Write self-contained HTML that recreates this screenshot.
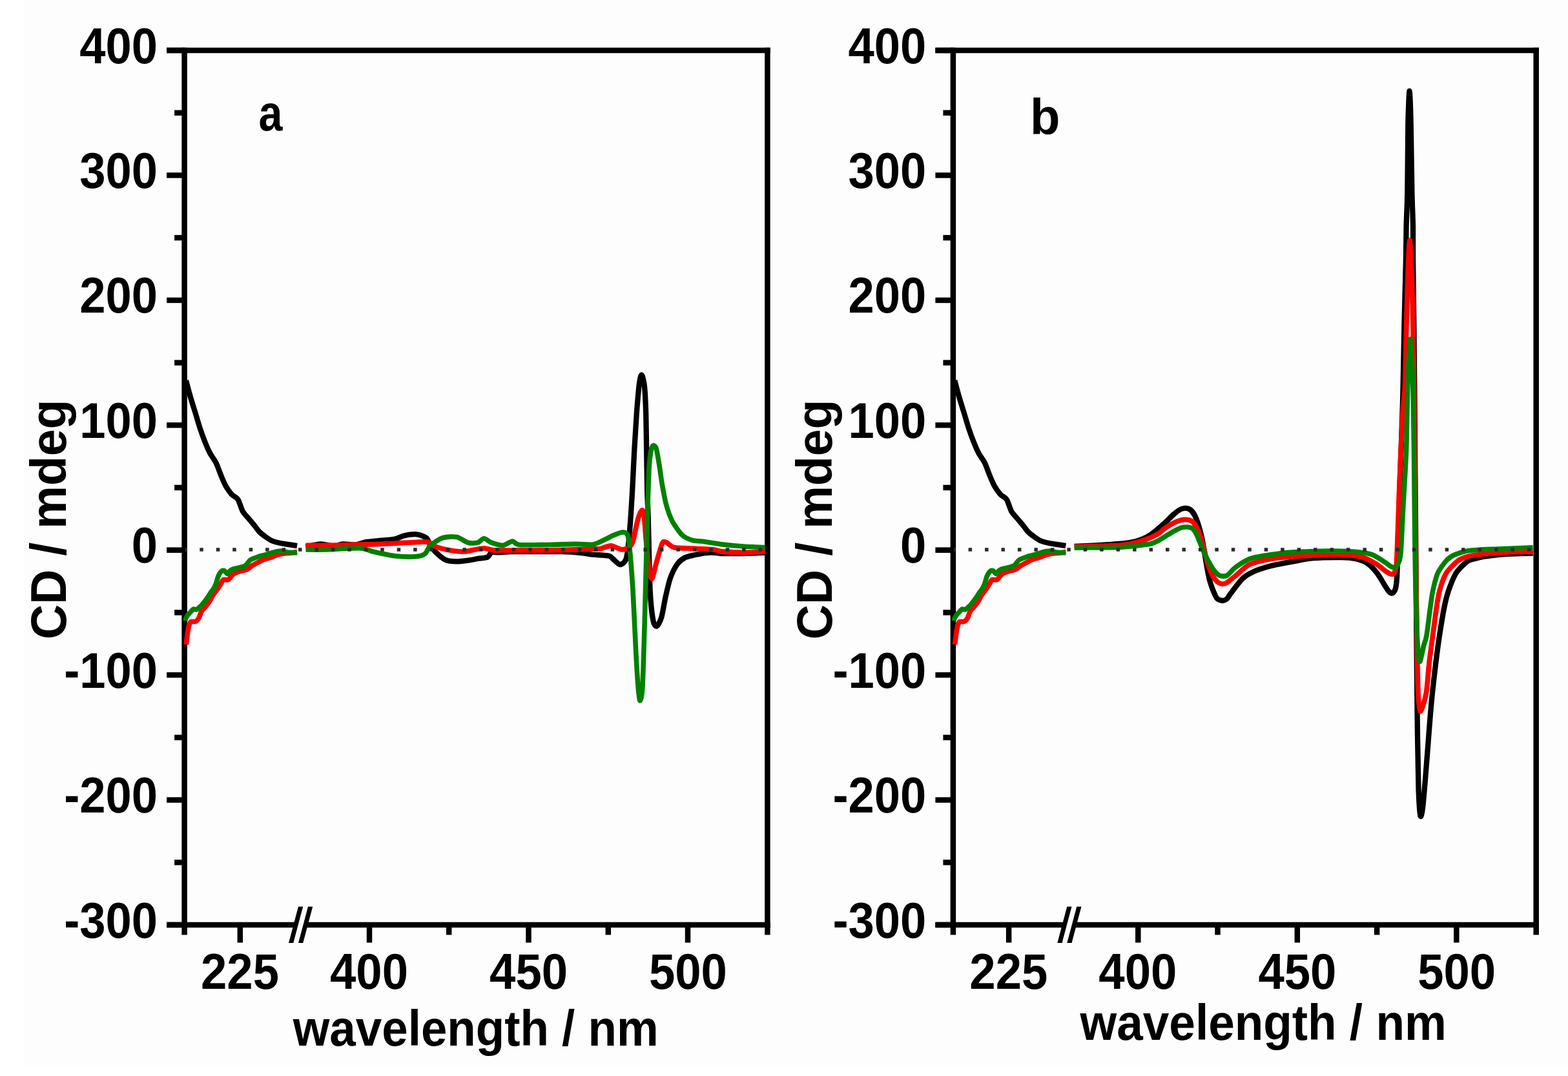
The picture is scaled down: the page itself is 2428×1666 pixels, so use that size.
<!DOCTYPE html>
<html><head><meta charset="utf-8"><title>CD spectra</title>
<style>
html,body{margin:0;padding:0;background:#fff;}
body{width:2428px;height:1666px;overflow:hidden;position:relative;}
svg{position:absolute;left:0;top:0;display:block;}
text{font-family:"Liberation Sans",Arial,sans-serif;font-weight:bold;font-size:78px;fill:#000;}
.ax{stroke:#000;stroke-width:8.5;fill:none;}
</style></head>
<body>
<svg width="2428" height="1666" viewBox="0 0 2428 1666">
<rect x="0" y="0" width="2428" height="1666" fill="#fff"/>
<rect x="38" y="0" width="2390" height="1650" fill="#fdfdfd"/>
<line x1="258.1" y1="78" x2="285.6" y2="78" class="ax"/>
<line x1="270.1" y1="174.7" x2="285.6" y2="174.7" class="ax"/>
<line x1="258.1" y1="271.4" x2="285.6" y2="271.4" class="ax"/>
<line x1="270.1" y1="368.1" x2="285.6" y2="368.1" class="ax"/>
<line x1="258.1" y1="464.9" x2="285.6" y2="464.9" class="ax"/>
<line x1="270.1" y1="561.6" x2="285.6" y2="561.6" class="ax"/>
<line x1="258.1" y1="658.3" x2="285.6" y2="658.3" class="ax"/>
<line x1="270.1" y1="755" x2="285.6" y2="755" class="ax"/>
<line x1="258.1" y1="851.7" x2="285.6" y2="851.7" class="ax"/>
<line x1="270.1" y1="948.4" x2="285.6" y2="948.4" class="ax"/>
<line x1="258.1" y1="1045.1" x2="285.6" y2="1045.1" class="ax"/>
<line x1="270.1" y1="1141.9" x2="285.6" y2="1141.9" class="ax"/>
<line x1="258.1" y1="1238.6" x2="285.6" y2="1238.6" class="ax"/>
<line x1="270.1" y1="1335.3" x2="285.6" y2="1335.3" class="ax"/>
<line x1="258.1" y1="1432" x2="285.6" y2="1432" class="ax"/>
<line x1="371.8" y1="1432" x2="371.8" y2="1459.5" class="ax"/>
<line x1="572" y1="1432" x2="572" y2="1459.5" class="ax"/>
<line x1="818.5" y1="1432" x2="818.5" y2="1459.5" class="ax"/>
<line x1="1065" y1="1432" x2="1065" y2="1459.5" class="ax"/>
<line x1="285.6" y1="1432" x2="285.6" y2="1447.5" class="ax"/>
<line x1="695.2" y1="1432" x2="695.2" y2="1447.5" class="ax"/>
<line x1="941.8" y1="1432" x2="941.8" y2="1447.5" class="ax"/>
<line x1="1188.4" y1="1432" x2="1188.4" y2="1447.5" class="ax"/>
<line x1="258.1" y1="78" x2="1192.7" y2="78" class="ax"/>
<line x1="285.6" y1="73.8" x2="285.6" y2="1436.2" class="ax"/>
<line x1="1188.4" y1="73.8" x2="1188.4" y2="1436.2" class="ax"/>
<line x1="258.1" y1="1432" x2="458.2" y2="1432" class="ax"/>
<line x1="473.2" y1="1432" x2="1192.7" y2="1432" class="ax"/>
<polygon points="447,1460 454.2,1460 469.2,1403.7 462,1403.7" fill="#000"/>
<polygon points="462,1460 469.2,1460 484.2,1403.7 477,1403.7" fill="#000"/>
<path d="M288 589C288.9 592.5 293.1 608.3 295 615C296.9 621.7 300.6 633.1 302.6 639.6C304.6 646.1 308 658 310 664C312 670 315.6 679.8 317.6 684.8C319.6 689.8 322.9 697.4 325.2 701.7C327.5 706 332.4 712.3 334.6 716.8C336.8 721.3 340 730.8 342 735.6C344 740.4 347.3 748.5 349.6 752.5C351.9 756.5 356.5 762.9 359 765.7C361.5 768.5 366.1 769.7 368.4 773.2C370.7 776.7 373.7 788 376 792C378.3 796 382.9 800.3 385.4 803.3C387.9 806.3 392.5 811.8 394.8 814.6C397.1 817.4 400 821.7 402.3 824C404.6 826.3 409.2 829.7 411.7 831.5C414.2 833.3 418 835.9 421 837.2C424 838.5 431 840.3 434.3 841C437.6 841.7 442.2 842.2 445.6 842.8C449 843.4 458.1 844.9 460 845.2" fill="none" stroke="#000" stroke-width="8.3" stroke-linejoin="round" stroke-linecap="butt"/>
<path d="M473.5 846.7C476.6 846.1 490.9 842.5 496.6 842.4C502.3 842.3 511.4 845.6 516 845.6C520.6 845.6 526.5 842.7 531 842.4C535.5 842.1 545.1 843.9 550 843.5C554.9 843.1 562.4 840.1 567.6 839.2C572.8 838.3 583.3 837.6 589 837C594.7 836.4 605.7 835.9 610.6 834.9C615.5 833.9 621.1 830.5 625.7 829.5C630.3 828.5 640.4 826.9 645 827.3C649.6 827.7 657.1 830.4 660 832.7C662.9 835 664.5 841.5 666.5 844.5C668.5 847.5 671.9 852.3 675 855.3C678.1 858.3 685.7 865.1 690 867C694.3 868.9 702.2 869.3 707.4 869.3C712.6 869.3 724.7 867.6 729 867C733.3 866.4 736.3 865.6 739.7 865C743.1 864.4 752 864.1 754.8 862.8C757.6 861.5 758.7 856.3 761 855.3C763.3 854.3 767.7 855.4 772 855.3C776.3 855.2 786.3 854.3 793.5 854.2C800.7 854.1 815.7 854.2 825.7 854.2C835.7 854.2 858.9 854 868.8 854.2C878.7 854.4 893.7 855.4 900 856C906.3 856.6 911.3 858 915.7 858.5C920.1 859 929.2 859.3 933 859.6C936.8 859.9 941.5 859.9 944 861C946.5 862.1 949.9 866.3 952 868C954.1 869.7 957.7 873.6 959.6 874C961.5 874.4 964.5 872.6 966 871C967.5 869.4 969.3 868.5 970.5 861.8C971.7 855.1 974 834.5 975.1 821C976.2 807.5 978.2 776.8 979.1 760.7C980 744.6 981.2 716.6 982.1 700.5C983 684.4 984.9 653.7 985.8 640.3C986.7 626.9 988.5 607.4 989.2 600.1C989.9 592.8 990.8 588.1 991.4 585.5C992 582.9 992.8 580.5 993.4 580.5C994 580.5 995 582.9 995.6 585.5C996.2 588.1 997.6 592.8 998.2 600.1C998.8 607.4 999.8 626.9 1000.2 640.3C1000.6 653.7 1000.9 684.4 1001.2 700.5C1001.5 716.6 1001.9 746.8 1002.2 760.7C1002.5 774.6 1003.2 784.6 1003.8 805C1004.4 825.4 1005.6 892.8 1006.6 913.5C1007.6 934.2 1009.9 953 1011.3 960.5C1012.7 968 1015.3 970.1 1017 969.5C1018.7 968.9 1022.5 961.6 1024.3 955.7C1026.1 949.8 1028.5 933.6 1030.3 925.6C1032.1 917.6 1035.4 902.4 1037.8 895.5C1040.2 888.6 1045.4 878.3 1048.4 874C1051.4 869.7 1056.8 865.5 1060.4 863.5C1064 861.5 1071.5 860.3 1075.5 859.3C1079.5 858.3 1086.7 856.8 1090.5 856.3C1094.3 855.8 1099.9 855.4 1103.8 855.5C1107.7 855.6 1113.1 856.8 1119.4 857C1125.7 857.2 1142.1 857.2 1150.8 857C1159.5 856.8 1180.4 855.7 1185 855.5" fill="none" stroke="#000" stroke-width="8.3" stroke-linejoin="round" stroke-linecap="butt"/>
<path d="M288.3 998C288.6 995.4 290.1 982.5 290.7 978.5C291.3 974.5 292.1 970 292.8 967.9C293.5 965.8 294.7 963.2 296 962.5C297.3 961.8 300.8 963.2 302.4 962.5C304 961.8 306.4 959.3 307.7 957.2C309 955.1 310.6 949 312 946.6C313.4 944.2 316.7 941.2 318.4 939.1C320.1 937 323.3 933 324.8 930.6C326.3 928.2 328.4 923.4 330 921C331.6 918.6 334.9 914.8 336.5 912.5C338.1 910.2 340.5 906 341.8 904C343.1 902 344.4 898.4 346 897.5C347.6 896.6 351.5 898.6 353.5 897.5C355.5 896.4 358.7 890.7 361 889C363.3 887.3 367.8 885.8 370.6 884.8C373.4 883.8 379.7 882.7 382.3 881.6C384.9 880.5 387.8 877.5 389.8 876.2C391.8 874.9 394.8 873.3 397.2 872C399.6 870.7 405.1 867.7 407.9 866.6C410.7 865.5 415.7 864.4 418.5 863.4C421.3 862.4 426.4 860.1 429.2 859.2C432 858.3 437 857.4 439.8 857C442.6 856.6 447.8 856.3 450.5 856C453.2 855.7 458.7 854.7 460 854.5" fill="none" stroke="#f00" stroke-width="7.8" stroke-linejoin="round" stroke-linecap="butt"/>
<path d="M473.5 844.5C477.4 844.5 493.3 844.6 503 844.5C512.7 844.4 534.5 843.8 546 843.5C557.5 843.2 577.5 842.8 589 842.4C600.5 842 622.3 840.6 632 840.2C641.7 839.8 656.3 838.3 662 839.2C667.7 840.1 670.4 845 675 846.7C679.6 848.4 691 851 696.7 852C702.4 853 712.8 854.3 718 854.2C723.2 854.1 731.1 851.7 735.4 851C739.7 850.3 746 848.7 750 848.8C754 848.9 758.3 851.6 765.5 852C772.7 852.4 793.1 852 804 852C814.9 852 835.5 852.1 847 852C858.5 851.9 879.9 851.3 890 851C900.1 850.7 917.1 850.2 922.6 850C928.1 849.8 927.9 849.9 931 849.2C934.1 848.5 941.8 844.8 946 845C950.2 845.2 959 850.5 962.7 850.8C966.4 851.1 971.4 849.3 973.7 847.6C976 845.9 978.1 844 980 838.2C981.9 832.4 985.9 810.2 987.8 803.8C989.7 797.4 992.7 790.8 994 790C995.3 789.2 996.4 791.5 997.2 797.5C998 803.5 999.3 823.7 1000.3 835C1001.3 846.3 1003.7 873.9 1005 882C1006.3 890.1 1008.2 897.2 1009.7 896C1011.2 894.8 1013.9 880 1016 872.7C1018.1 865.4 1023.3 845.8 1025.4 841.4C1027.5 837 1029.2 839 1031.7 839.8C1034.2 840.6 1038.6 846.3 1044 847.6C1049.4 848.9 1064.4 848.8 1072.4 849.2C1080.4 849.6 1097.5 850.2 1103.8 850.8C1110.1 851.4 1113.1 853.4 1119.4 854C1125.7 854.6 1142.1 855.5 1150.8 855.5C1159.5 855.5 1180.4 854.2 1185 854" fill="none" stroke="#f00" stroke-width="7.8" stroke-linejoin="round" stroke-linecap="butt"/>
<path d="M287.2 961C287.2 960.6 287.2 959.2 287.5 958C288 956.8 290 953.4 291 952C292 950.6 294.1 948.7 295.2 947.5C296.3 946.3 298.3 943.5 299.5 943C300.7 942.5 302.9 944.3 304 944C305.1 943.7 306.8 942 308 941C309.2 940 311.5 937.8 312.7 936.5C313.9 935.2 315.8 932.5 317 931C318.2 929.5 320.3 926.7 321.5 925C322.7 923.3 324.8 919.7 326 918C327.2 916.3 329.2 913.7 330.3 912C331.4 910.3 333.1 907.3 334 905C334.9 902.7 336.3 897.1 337 895C337.7 892.9 338.6 890.5 339.5 889C340.4 887.5 342.4 884.7 343.5 884C344.6 883.3 346.6 883.4 347.8 884C349 884.6 351 888.6 352.2 888.5C353.4 888.4 355.4 884.5 356.6 883.5C357.8 882.5 359.8 881.5 361 881C362.2 880.5 363.9 880.3 365.4 880C366.9 879.7 370.2 879 372 878.5C373.8 878 377.2 877.2 378.6 876.5C380 875.8 381.1 874.8 382.3 873.5C383.5 872.2 385.6 868.4 387.6 867C389.6 865.6 395.2 863.8 397.2 863C399.2 862.2 400.4 861.6 402.5 861C404.6 860.4 410.3 859.3 413.2 858.5C416.1 857.7 421.1 855.7 423.9 855C426.7 854.3 431.7 853 434.5 853C437.3 853 441.8 854.6 445.2 855C448.6 855.4 458 855.9 460 856" fill="none" stroke="#008000" stroke-width="7.6" stroke-linejoin="round" stroke-linecap="butt"/>
<path d="M473.5 851C477.4 851 491.9 851.3 503 851C514.1 850.7 546.8 848.4 556.8 848.8C566.8 849.2 571.1 852.6 578.3 854.2C585.5 855.8 602 859.7 610.6 860.7C619.2 861.7 636.7 862.2 643 861.8C649.3 861.4 654.9 859.8 658 857.5C661.1 855.2 662.8 847.8 666.5 844.5C670.2 841.2 680.5 834.4 686 832.7C691.5 831 702.3 830.6 707.4 831.6C712.5 832.6 720.3 839.1 724.6 840.2C728.9 841.3 736.4 841.1 739.7 840.2C743 839.3 746.6 833.8 749.4 833.8C752.2 833.8 757.1 838.8 761 840.2C764.9 841.6 774.1 844.8 778.4 844.5C782.7 844.2 790.1 838.1 793.5 838C796.9 837.9 796.9 842.8 804 843.5C811.1 844.2 835.5 843.6 847 843.5C858.5 843.4 880.4 842.5 890 842.4C899.6 842.3 912.5 844 918.8 843C925.1 842 933.4 836.9 937.6 835C941.8 833.1 946.4 830.3 950 828.8C953.6 827.3 961.4 824 964.3 824C967.2 824 970.5 825.2 972 828.8C973.5 832.4 974.1 839.5 975.2 850.8C976.3 862.1 978.7 892.6 980 913.5C981.3 934.4 983.5 987.7 984.6 1007.5C985.7 1027.3 987.1 1051.7 988 1062C988.9 1072.3 990.1 1085 991 1085C991.9 1085 994 1080.7 995 1062C996 1043.3 997.8 977.1 998.7 944.8C999.6 912.5 1001.1 848.7 1001.9 819.4C1002.7 790.1 1004.2 741.6 1005 725.4C1005.8 709.2 1007.2 702.7 1008 698C1008.8 693.3 1010.2 690.5 1011.3 690C1012.4 689.5 1014.7 690.1 1016 694C1017.3 697.9 1019.4 711.5 1020.7 719C1022 726.5 1023.9 742.1 1025.4 750.5C1026.9 758.9 1029.6 774.3 1031.7 781.8C1033.8 789.3 1037.7 800.6 1041 806.9C1044.3 813.2 1052.5 824.8 1056.7 828.8C1060.9 832.8 1068.2 835.4 1072.4 836.7C1076.6 838 1081.7 837.4 1088 838.2C1094.3 839 1111 842 1119.4 843C1127.8 844 1142.1 845.4 1150.8 846C1159.5 846.6 1180.4 847.4 1185 847.6" fill="none" stroke="#008000" stroke-width="7.6" stroke-linejoin="round" stroke-linecap="butt"/>
<line x1="286.6" y1="850.9" x2="1185.4" y2="850.9" stroke="#2a2a2a" stroke-width="5.5" stroke-dasharray="5.5 19.95" stroke-dashoffset="2.75"/>
<text transform="translate(123.3 97.5) scale(0.9270 1)">400</text>
<text transform="translate(123.3 290.9) scale(0.9270 1)">300</text>
<text transform="translate(123.3 484.4) scale(0.9270 1)">200</text>
<text transform="translate(123.3 677.8) scale(0.9270 1)">100</text>
<text transform="translate(203.8 871.2) scale(0.9270 1)">0</text>
<text transform="translate(99.2 1064.6) scale(0.9270 1)">-100</text>
<text transform="translate(99.2 1258.1) scale(0.9270 1)">-200</text>
<text transform="translate(99.2 1451.5) scale(0.9270 1)">-300</text>
<text transform="translate(311 1531.3) scale(0.9300 1)">225</text>
<text transform="translate(511 1531.3) scale(0.9300 1)">400</text>
<text transform="translate(758.1 1531.3) scale(0.9300 1)">450</text>
<text transform="translate(1004.9 1531.3) scale(0.9300 1)">500</text>
<text transform="translate(400.4 201.5) scale(0.8512 1)">a</text>
<text transform="translate(102 987) rotate(-90) scale(0.9635 1) translate(-3.2 0)">CD / mdeg</text>
<text transform="translate(453.8 1619) scale(0.9325 1)">wavelength / nm</text>
<line x1="1448.4" y1="78" x2="1475.9" y2="78" class="ax"/>
<line x1="1460.4" y1="174.7" x2="1475.9" y2="174.7" class="ax"/>
<line x1="1448.4" y1="271.4" x2="1475.9" y2="271.4" class="ax"/>
<line x1="1460.4" y1="368.1" x2="1475.9" y2="368.1" class="ax"/>
<line x1="1448.4" y1="464.9" x2="1475.9" y2="464.9" class="ax"/>
<line x1="1460.4" y1="561.6" x2="1475.9" y2="561.6" class="ax"/>
<line x1="1448.4" y1="658.3" x2="1475.9" y2="658.3" class="ax"/>
<line x1="1460.4" y1="755" x2="1475.9" y2="755" class="ax"/>
<line x1="1448.4" y1="851.7" x2="1475.9" y2="851.7" class="ax"/>
<line x1="1460.4" y1="948.4" x2="1475.9" y2="948.4" class="ax"/>
<line x1="1448.4" y1="1045.1" x2="1475.9" y2="1045.1" class="ax"/>
<line x1="1460.4" y1="1141.9" x2="1475.9" y2="1141.9" class="ax"/>
<line x1="1448.4" y1="1238.6" x2="1475.9" y2="1238.6" class="ax"/>
<line x1="1460.4" y1="1335.3" x2="1475.9" y2="1335.3" class="ax"/>
<line x1="1448.4" y1="1432" x2="1475.9" y2="1432" class="ax"/>
<line x1="1562.1" y1="1432" x2="1562.1" y2="1459.5" class="ax"/>
<line x1="1762.3" y1="1432" x2="1762.3" y2="1459.5" class="ax"/>
<line x1="2008.8" y1="1432" x2="2008.8" y2="1459.5" class="ax"/>
<line x1="2255.3" y1="1432" x2="2255.3" y2="1459.5" class="ax"/>
<line x1="1475.9" y1="1432" x2="1475.9" y2="1447.5" class="ax"/>
<line x1="1885.5" y1="1432" x2="1885.5" y2="1447.5" class="ax"/>
<line x1="2132.1" y1="1432" x2="2132.1" y2="1447.5" class="ax"/>
<line x1="2378.7" y1="1432" x2="2378.7" y2="1447.5" class="ax"/>
<line x1="1448.4" y1="78" x2="2382.9" y2="78" class="ax"/>
<line x1="1475.9" y1="73.8" x2="1475.9" y2="1436.2" class="ax"/>
<line x1="2378.7" y1="73.8" x2="2378.7" y2="1436.2" class="ax"/>
<line x1="1448.4" y1="1432" x2="1648.5" y2="1432" class="ax"/>
<line x1="1663.5" y1="1432" x2="2382.9" y2="1432" class="ax"/>
<polygon points="1637.3,1460 1644.5,1460 1659.5,1403.7 1652.3,1403.7" fill="#000"/>
<polygon points="1652.3,1460 1659.5,1460 1674.5,1403.7 1667.3,1403.7" fill="#000"/>
<path d="M1478.3 589C1479.2 592.5 1483.4 608.3 1485.3 615C1487.2 621.7 1490.9 633.1 1492.9 639.6C1494.9 646.1 1498.3 658 1500.3 664C1502.3 670 1505.9 679.8 1507.9 684.8C1509.9 689.8 1513.2 697.4 1515.5 701.7C1517.8 706 1522.7 712.3 1524.9 716.8C1527.1 721.3 1530.3 730.8 1532.3 735.6C1534.3 740.4 1537.6 748.5 1539.9 752.5C1542.2 756.5 1546.8 762.9 1549.3 765.7C1551.8 768.5 1556.4 769.7 1558.7 773.2C1561 776.7 1564 788 1566.3 792C1568.6 796 1573.2 800.3 1575.7 803.3C1578.2 806.3 1582.8 811.8 1585.1 814.6C1587.4 817.4 1590.3 821.7 1592.6 824C1594.9 826.3 1599.5 829.7 1602 831.5C1604.5 833.3 1608.3 835.9 1611.3 837.2C1614.3 838.5 1621.3 840.3 1624.6 841C1627.9 841.7 1632.5 842.2 1635.9 842.8C1639.3 843.4 1648.4 844.9 1650.3 845.2" fill="none" stroke="#000" stroke-width="8.3" stroke-linejoin="round" stroke-linecap="butt"/>
<path d="M1663.7 846C1668.2 845.8 1688.3 845 1697.6 844.5C1706.9 844 1725.5 842.8 1733.4 842C1741.3 841.2 1752.4 839.5 1757.2 838.5C1762 837.5 1765.9 835.8 1769.1 834.5C1772.3 833.2 1777.8 830.6 1781 828.5C1784.2 826.4 1789.8 821.7 1793 819C1796.2 816.3 1801.6 811.4 1804.8 808.5C1808 805.6 1813.8 799.5 1816.7 797C1819.6 794.5 1823.9 790.9 1826.3 789.5C1828.7 788.1 1832.4 786.9 1834.6 786.8C1836.8 786.7 1840.9 787.5 1843 789C1845.1 790.5 1848.4 794.8 1850.1 798.1C1851.8 801.4 1854.6 809.1 1856 813.6C1857.4 818.1 1859.7 826.6 1860.8 831.5C1861.9 836.4 1863.4 845 1864.4 850.5C1865.4 856 1866.9 866.9 1868 873.1C1869.1 879.3 1871.3 891.4 1872.7 897C1874.1 902.6 1877.1 910.8 1878.7 914.8C1880.3 918.8 1882.7 924.7 1884.6 926.7C1886.5 928.7 1890.9 930 1893 930C1895.1 930 1898.2 928.6 1900 927C1901.8 925.4 1903.1 922.1 1906.3 918C1909.5 913.9 1919.3 900.4 1924 896C1928.7 891.6 1935.6 887.6 1941.4 885C1947.2 882.4 1959.9 878.3 1967.8 876.3C1975.7 874.3 1991.9 871.3 2000.7 869.7C2009.5 868.1 2023.4 865.1 2033.6 864.2C2043.8 863.3 2068.7 863 2077.5 863.1C2086.3 863.2 2094.1 864.1 2099.4 865.3C2104.7 866.5 2112.6 869.1 2117 872C2121.4 874.9 2128.9 882.9 2132.4 887.3C2135.9 891.7 2141 901.1 2143.3 904.8C2145.6 908.5 2148.5 913.2 2150 915C2151.5 916.8 2153.2 918.2 2154.3 918.5C2155.4 918.8 2157.1 918 2158 917C2158.9 916 2160.3 913.9 2161 911C2161.7 908.1 2162.5 903.1 2163 895C2163.5 886.9 2163.8 870.7 2164.5 850C2165.2 829.3 2167 770.7 2168 740C2169 709.3 2171.3 650.9 2172.1 620C2172.9 589.1 2173.7 536.9 2174.3 508C2174.9 479.1 2176.5 424.1 2176.9 403C2177.3 381.9 2177.3 364 2177.6 350C2177.9 336 2178.9 319.1 2179.3 298C2179.7 276.9 2180 211.1 2180.3 192C2180.6 172.9 2181.2 161.8 2181.5 155C2181.8 148.2 2182.2 141 2182.5 141C2182.8 141 2183.3 148.2 2183.6 155C2183.9 161.8 2184.3 172.9 2184.7 192C2185.1 211.1 2186 276.9 2186.4 298C2186.8 319.1 2187.8 336 2188 350C2188.1 364 2188 381.9 2188.1 403C2188.3 424.1 2189.1 479.1 2189.4 508C2189.7 536.9 2190.1 567.7 2190.5 620C2190.9 672.3 2192.2 836 2192.7 900C2193.2 964 2194 1057.3 2194.5 1100C2195 1142.7 2195.8 1198.3 2196.5 1220C2197.2 1241.7 2198.5 1258.9 2199.4 1263C2200.3 1267.1 2201.9 1259.3 2203 1251C2204.1 1242.7 2206.4 1214.5 2207.5 1201C2208.6 1187.5 2210.5 1162.8 2211.5 1150C2212.5 1137.2 2214.1 1115.2 2215 1105C2215.9 1094.8 2216.8 1084.4 2217.9 1073.8C2219 1063.2 2221.9 1037.5 2223.4 1025.5C2224.9 1013.5 2227.3 995.1 2229 984.1C2230.7 973.1 2234.1 952 2235.9 942.8C2237.7 933.6 2240.3 922.6 2242.8 915.2C2245.3 907.8 2250.6 893.8 2254.5 887.6C2258.4 881.4 2268.2 872.1 2272.4 869C2276.6 865.9 2282.3 865.5 2286 864.5C2289.7 863.5 2295.6 862.2 2300 861.5C2304.4 860.8 2313.6 859.5 2318.9 859C2324.2 858.5 2332.7 857.8 2340 857.5C2347.3 857.2 2369.2 856.7 2373.7 856.6" fill="none" stroke="#000" stroke-width="8.3" stroke-linejoin="round" stroke-linecap="butt"/>
<path d="M1478.6 998C1478.9 995.4 1480.4 982.5 1481 978.5C1481.6 974.5 1482.4 970 1483.1 967.9C1483.8 965.8 1485 963.2 1486.3 962.5C1487.6 961.8 1491.1 963.2 1492.7 962.5C1494.3 961.8 1496.7 959.3 1498 957.2C1499.3 955.1 1500.9 949 1502.3 946.6C1503.7 944.2 1507 941.2 1508.7 939.1C1510.4 937 1513.6 933 1515.1 930.6C1516.6 928.2 1518.7 923.4 1520.3 921C1521.9 918.6 1525.2 914.8 1526.8 912.5C1528.4 910.2 1530.8 906 1532.1 904C1533.4 902 1534.7 898.4 1536.3 897.5C1537.9 896.6 1541.8 898.6 1543.8 897.5C1545.8 896.4 1549 890.7 1551.3 889C1553.6 887.3 1558.1 885.8 1560.9 884.8C1563.7 883.8 1570 882.7 1572.6 881.6C1575.2 880.5 1578.1 877.5 1580.1 876.2C1582.1 874.9 1585.1 873.3 1587.5 872C1589.9 870.7 1595.4 867.7 1598.2 866.6C1601 865.5 1606 864.4 1608.8 863.4C1611.6 862.4 1616.7 860.1 1619.5 859.2C1622.3 858.3 1627.3 857.4 1630.1 857C1632.9 856.6 1638.1 856.3 1640.8 856C1643.5 855.7 1649 854.7 1650.3 854.5" fill="none" stroke="#f00" stroke-width="7.8" stroke-linejoin="round" stroke-linecap="butt"/>
<path d="M1663.7 846.5C1673 846.2 1720.9 845.3 1733.4 844.5C1745.9 843.7 1751.7 841.8 1757.2 840.5C1762.7 839.2 1770.2 836.8 1775 835C1779.8 833.2 1789 829.1 1793 826.7C1797 824.3 1801.6 819.4 1804.8 817.2C1808 815 1813.5 811.6 1816.7 810C1819.9 808.4 1825.8 806 1828.7 805.3C1831.6 804.6 1835.8 804.4 1838.2 804.7C1840.6 805 1844.6 806.1 1846.5 807.6C1848.4 809.1 1850.9 813.1 1852.5 816C1854.1 818.9 1856.8 824.5 1858.4 829.1C1860 833.7 1862.8 844.6 1864.4 850.5C1866 856.4 1868.7 868 1870.3 873.1C1871.9 878.2 1874.4 884.9 1876.3 888.6C1878.2 892.3 1882.4 898.4 1884.6 900.5C1886.8 902.6 1890.9 903.9 1893 904.1C1895.1 904.3 1897.3 903.7 1900 902C1902.7 900.3 1908.3 895.4 1913 891.7C1917.7 888 1927.6 877.6 1934.9 874.1C1942.2 870.6 1957.6 867 1967.8 865.3C1978 863.6 1997.1 861.9 2011.7 861C2026.3 860.1 2064.3 858.5 2077.5 858.8C2090.7 859.1 2103.1 861.1 2110.4 863.1C2117.7 865.1 2127.8 871.3 2132.4 874.1C2137 876.9 2142.1 882 2145 884C2147.9 886 2152.4 888.6 2154.3 889C2156.2 889.4 2158 888.5 2159 887C2160 885.5 2161.4 882.9 2162 878C2162.6 873.1 2162.8 867.1 2163.5 850C2164.2 832.9 2165.9 778 2167 750C2168.1 722 2170.9 660 2172 640C2173.1 620 2174.7 617.6 2175.5 600C2176.3 582.4 2177.1 530.1 2177.7 508C2178.3 485.9 2179.2 450.2 2179.7 434.5C2180.2 418.8 2181.1 398.3 2181.5 390C2181.9 381.7 2182.6 372 2183 372C2183.4 372 2184.1 381.7 2184.5 390C2184.9 398.3 2185.8 418.8 2186.3 434.5C2186.8 450.2 2187.7 485.9 2188.1 508C2188.5 530.1 2189.1 571.7 2189.5 600C2189.9 628.3 2190.7 686.7 2191 720C2191.3 753.3 2191.7 819.3 2192 850C2192.3 880.7 2193 922 2193.5 950C2194 978 2194.8 1039.8 2195.5 1060C2196.2 1080.2 2197.3 1099.7 2199 1101.5C2200.7 1103.3 2206.4 1083.9 2208.3 1073.8C2210.2 1063.7 2211.7 1037.5 2213.1 1025.5C2214.5 1013.5 2217.1 995.1 2218.6 984.1C2220.1 973.1 2222.7 952 2224.1 942.8C2225.5 933.6 2227 922.6 2229 915.2C2231 907.8 2235.4 893.9 2239.3 887.6C2243.2 881.3 2253.2 871.5 2258 868C2262.8 864.5 2268.3 862.5 2275 861C2281.7 859.5 2299.2 857.5 2308 856.6C2316.8 855.7 2332 854.9 2340.8 854.6C2349.6 854.3 2369.3 854.4 2373.7 854.4" fill="none" stroke="#f00" stroke-width="7.8" stroke-linejoin="round" stroke-linecap="butt"/>
<path d="M1477.5 961C1477.5 960.6 1477.5 959.2 1477.8 958C1478.3 956.8 1480.3 953.4 1481.3 952C1482.3 950.6 1484.4 948.7 1485.5 947.5C1486.6 946.3 1488.6 943.5 1489.8 943C1491 942.5 1493.2 944.3 1494.3 944C1495.4 943.7 1497.1 942 1498.3 941C1499.5 940 1501.8 937.8 1503 936.5C1504.2 935.2 1506.1 932.5 1507.3 931C1508.5 929.5 1510.6 926.7 1511.8 925C1513 923.3 1515.1 919.7 1516.3 918C1517.5 916.3 1519.5 913.7 1520.6 912C1521.7 910.3 1523.4 907.3 1524.3 905C1525.2 902.7 1526.6 897.1 1527.3 895C1528 892.9 1528.9 890.5 1529.8 889C1530.7 887.5 1532.7 884.7 1533.8 884C1534.9 883.3 1536.9 883.4 1538.1 884C1539.3 884.6 1541.3 888.6 1542.5 888.5C1543.7 888.4 1545.7 884.5 1546.9 883.5C1548.1 882.5 1550.1 881.5 1551.3 881C1552.5 880.5 1554.2 880.3 1555.7 880C1557.2 879.7 1560.5 879 1562.3 878.5C1564.1 878 1567.5 877.2 1568.9 876.5C1570.3 875.8 1571.4 874.8 1572.6 873.5C1573.8 872.2 1575.9 868.4 1577.9 867C1579.9 865.6 1585.5 863.8 1587.5 863C1589.5 862.2 1590.7 861.6 1592.8 861C1594.9 860.4 1600.6 859.3 1603.5 858.5C1606.4 857.7 1611.4 855.7 1614.2 855C1617 854.3 1622 853 1624.8 853C1627.6 853 1632.1 854.6 1635.5 855C1638.9 855.4 1648.3 855.9 1650.3 856" fill="none" stroke="#008000" stroke-width="7.6" stroke-linejoin="round" stroke-linecap="butt"/>
<path d="M1663.7 848.1C1673 848 1720.9 847.9 1733.4 847.5C1745.9 847.1 1750.9 845.9 1757.2 845.2C1763.5 844.5 1776.2 843.2 1781 842.2C1785.8 841.2 1789.8 839 1793 837.4C1796.2 835.8 1801.6 832.2 1804.8 830.3C1808 828.4 1813.5 824.8 1816.7 823.1C1819.9 821.4 1825.8 818.1 1828.7 817.2C1831.6 816.3 1835.8 815.8 1838.2 816C1840.6 816.2 1844.6 817 1846.5 818.4C1848.4 819.8 1850.9 823.7 1852.5 826.7C1854.1 829.7 1856.8 837.2 1858.4 841C1860 844.8 1862.8 851.8 1864.4 855.3C1866 858.8 1868.4 863.7 1870.3 867.2C1872.2 870.7 1876.3 878.3 1878.7 881.5C1881.1 884.7 1885.4 889.7 1888.2 891C1891 892.3 1896.7 892.7 1900 891C1903.3 889.3 1908.3 881.9 1913 878.5C1917.7 875.1 1927.6 867.9 1934.9 865.3C1942.2 862.7 1957.6 860.3 1967.8 858.8C1978 857.3 1997.1 855.1 2011.7 854.4C2026.3 853.7 2062.9 852.9 2077.5 853.3C2092.1 853.7 2112.6 855.5 2121.4 857.7C2130.2 859.9 2139.2 867.3 2143.3 869.7C2147.4 872.1 2149.9 874.8 2152 876C2154.1 877.2 2157.2 879 2158.7 879C2160.2 879 2161.8 877.7 2163 876C2164.2 874.3 2166.6 869.5 2167.5 866C2168.4 862.5 2168.8 861.5 2169.5 850C2170.2 838.5 2171.9 800 2173 780C2174.1 760 2176.6 723.5 2177.5 700C2178.4 676.5 2179 624.3 2179.6 603.6C2180.2 582.9 2181.4 555.5 2182 545C2182.6 534.5 2183.3 525 2183.8 525C2184.3 525 2185 534.5 2185.6 545C2186.2 555.5 2187.5 582.9 2188 603.6C2188.5 624.3 2189.1 667.1 2189.5 700C2189.9 732.9 2190.5 816.7 2191 850C2191.5 883.3 2192.3 928.7 2193 950C2193.7 971.3 2195.2 1000.1 2196 1010C2196.8 1019.9 2197.9 1025.3 2199 1024C2200.1 1022.7 2203.2 1005.3 2204.5 1000C2205.8 994.7 2207.7 991.7 2209 984.1C2210.3 976.5 2213.2 952 2214.5 942.8C2215.8 933.6 2217 922.6 2218.6 915.2C2220.2 907.8 2223.3 894 2226.2 887.6C2229.1 881.2 2237.1 870.7 2240.7 866.9C2244.3 863.1 2248.4 860.7 2253 858.8C2257.6 856.9 2266.2 853.7 2275 852.5C2283.8 851.3 2305.7 850.6 2318.9 850C2332.1 849.4 2366.4 848.1 2373.7 847.8" fill="none" stroke="#008000" stroke-width="7.6" stroke-linejoin="round" stroke-linecap="butt"/>
<line x1="1476.9" y1="850.9" x2="2375.7" y2="850.9" stroke="#2a2a2a" stroke-width="5.5" stroke-dasharray="5.5 19.95" stroke-dashoffset="2.75"/>
<text transform="translate(1313.6 97.5) scale(0.9270 1)">400</text>
<text transform="translate(1313.6 290.9) scale(0.9270 1)">300</text>
<text transform="translate(1313.6 484.4) scale(0.9270 1)">200</text>
<text transform="translate(1313.6 677.8) scale(0.9270 1)">100</text>
<text transform="translate(1394.1 871.2) scale(0.9270 1)">0</text>
<text transform="translate(1289.5 1064.6) scale(0.9270 1)">-100</text>
<text transform="translate(1289.5 1258.1) scale(0.9270 1)">-200</text>
<text transform="translate(1289.5 1451.5) scale(0.9270 1)">-300</text>
<text transform="translate(1501.3 1531.3) scale(0.9300 1)">225</text>
<text transform="translate(1701.3 1531.3) scale(0.9300 1)">400</text>
<text transform="translate(1948.4 1531.3) scale(0.9300 1)">450</text>
<text transform="translate(2195.2 1531.3) scale(0.9300 1)">500</text>
<text transform="translate(1595.1 207.6) scale(0.9744 1)">b</text>
<text transform="translate(1288.3 987.1) rotate(-90) scale(0.9635 1) translate(-3.2 0)">CD / mdeg</text>
<text transform="translate(1672.5 1610.3) scale(0.9349 1)">wavelength / nm</text>
</svg>
</body></html>
